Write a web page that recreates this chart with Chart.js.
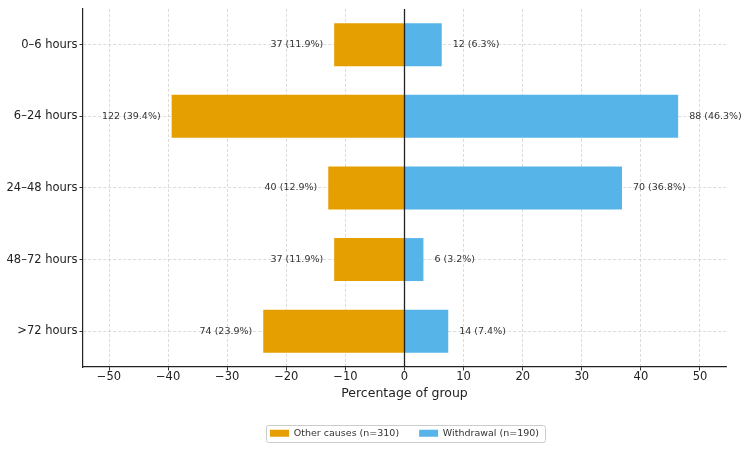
<!DOCTYPE html>
<html>
<head>
<meta charset="utf-8">
<script src="https://cdn.jsdelivr.net/npm/chart.js@4.4.1/dist/chart.umd.min.js"></script>
<style>
  html, body { margin: 0; padding: 0; background: #ffffff; }
  #wrap { width: 750px; height: 450px; }
</style>
</head>
<body>
<div id="wrap"><canvas id="c" width="750" height="450"></canvas></div>
<script>
// ---- Data ----
const categories = ['0–6 hours', '6–24 hours', '24–48 hours', '48–72 hours', '>72 hours'];
const otherCounts = [37, 122, 40, 37, 74];
const otherPct = [11.9, 39.4, 12.9, 11.9, 23.9];
const withdrawalCounts = [12, 88, 70, 6, 14];
const withdrawalPct = [6.3, 46.3, 36.8, 3.2, 7.4];
const seriesNames = ['Other causes (n=310)', 'Withdrawal (n=190)'];
const xTicks = [-50, -40, -30, -20, -10, 0, 10, 20, 30, 40, 50];

const FONT = '"DejaVu Sans", "Liberation Sans", sans-serif';
const ORANGE = '#E69F00';
const BLUE = '#56B4E9';

const annotPlugin = {
  id: 'annot',
  afterUpdate(chart) {
    // center the legend under the plot area (not the whole canvas)
    const lg = chart.legend;
    if (!lg) return;
    const ca = chart.chartArea;
    const plotCenter = (ca.left + ca.right) / 2;
    const curCenter = (lg.left + lg.right) / 2;
    const dx = plotCenter - curCenter;
    lg.left += dx;
    lg.right += dx;
    (lg.legendHitBoxes || []).forEach(h => { h.left += dx; });
  },
  afterDatasetsDraw(chart) {
    const ctx = chart.ctx;
    const xs = chart.scales.x;
    const ca = chart.chartArea;
    const x0 = xs.getPixelForValue(0);
    ctx.save();
    ctx.strokeStyle = '#222222';
    ctx.lineWidth = 1.3;
    ctx.beginPath();
    ctx.moveTo(x0, ca.top);
    ctx.lineTo(x0, ca.bottom);
    ctx.stroke();

    ctx.font = '9.5px ' + FONT;
    ctx.fillStyle = '#333333';
    ctx.textBaseline = 'middle';
    const sets = [
      {counts: otherCounts, pct: otherPct, neg: true},
      {counts: withdrawalCounts, pct: withdrawalPct, neg: false}
    ];
    sets.forEach((s, di) => {
      const meta = chart.getDatasetMeta(di);
      meta.data.forEach((el, i) => {
        const txt = s.counts[i] + ' (' + s.pct[i].toFixed(1) + '%)';
        if (s.neg) {
          ctx.textAlign = 'right';
          ctx.fillText(txt, el.x - 11, el.y);
        } else {
          ctx.textAlign = 'left';
          ctx.fillText(txt, el.x + 11, el.y);
        }
      });
    });
    ctx.restore();
  },
  afterDraw(chart) {
    const lg = chart.legend;
    if (!lg || !lg.legendHitBoxes || !lg.legendHitBoxes.length) return;
    const hb = lg.legendHitBoxes;
    const first = hb[0], last = hb[hb.length - 1];
    const left = first.left - 4.5;
    const right = last.left + last.width + 5.5;
    const top = first.top - 3.5;
    const bottom = first.top + first.height + 3.5;
    const ctx = chart.ctx;
    ctx.save();
    ctx.strokeStyle = '#cccccc';
    ctx.lineWidth = 1;
    ctx.beginPath();
    if (ctx.roundRect) {
      ctx.roundRect(Math.round(left) + 0.5, Math.round(top) + 0.5, Math.round(right - left), Math.round(bottom - top), 2);
    } else {
      ctx.rect(Math.round(left) + 0.5, Math.round(top) + 0.5, Math.round(right - left), Math.round(bottom - top));
    }
    ctx.stroke();
    ctx.restore();
  }
};

new Chart(document.getElementById('c'), {
  type: 'bar',
  data: {
    labels: categories,
    datasets: [
      {
        label: seriesNames[0],
        data: otherPct.map(v => -v),
        backgroundColor: ORANGE,
        borderWidth: 0,
        barPercentage: 0.6,
        categoryPercentage: 1.0
      },
      {
        label: seriesNames[1],
        data: withdrawalPct,
        backgroundColor: BLUE,
        borderWidth: 0,
        barPercentage: 0.6,
        categoryPercentage: 1.0
      }
    ]
  },
  options: {
    indexAxis: 'y',
    responsive: false,
    animation: false,
    devicePixelRatio: 1,
    layout: { padding: { top: 8, right: 24, bottom: 2, left: 0 } },
    plugins: {
      legend: {
        position: 'bottom',
        align: 'center',
        labels: {
          boxWidth: 19,
          boxHeight: 7,
          padding: 20,
          color: '#333333',
          font: { family: FONT, size: 9.5 }
        }
      },
      tooltip: { enabled: false }
    },
    scales: {
      x: {
        type: 'linear',
        stacked: true,
        min: -54.4,
        max: 54.4,
        afterBuildTicks(scale) {
          scale.ticks = xTicks.map(v => ({ value: v }));
        },
        afterFit(scale) { scale.height = 41.5; },
        ticks: {
          color: '#222222',
          font: { family: FONT, size: 11.5 },
          padding: 0,
          maxRotation: 0,
          autoSkip: false,
          callback: (v) => (v < 0 ? '\u2212' + Math.abs(v) : String(v))
        },
        grid: {
          color: 'rgba(190,190,190,0.7)',
          lineWidth: 0.8,
          drawTicks: true,
          tickLength: 3.5,
          tickColor: '#333333',
          tickWidth: 1,
          tickBorderDash: []
        },
        border: { display: true, color: '#222222', width: 1.2, dash: [3, 2] },
        title: {
          display: true,
          text: 'Percentage of group',
          color: '#222222',
          font: { family: FONT, size: 12.5 },
          padding: { top: 0, bottom: 7.5 }
        }
      },
      y: {
        type: 'category',
        stacked: true,
        offset: true,
        afterFit(scale) { scale.width = 83; },
        ticks: {
          color: '#222222',
          font: { family: FONT, size: 11.5 },
          padding: 2
        },
        grid: {
          offset: false,
          color: 'rgba(190,190,190,0.7)',
          lineWidth: 0.8,
          drawTicks: true,
          tickLength: 3.5,
          tickColor: '#333333',
          tickWidth: 1,
          tickBorderDash: []
        },
        border: { display: true, color: '#222222', width: 1.2, dash: [3, 2] }
      }
    }
  },
  plugins: [annotPlugin]
});
</script>
</body>
</html>
